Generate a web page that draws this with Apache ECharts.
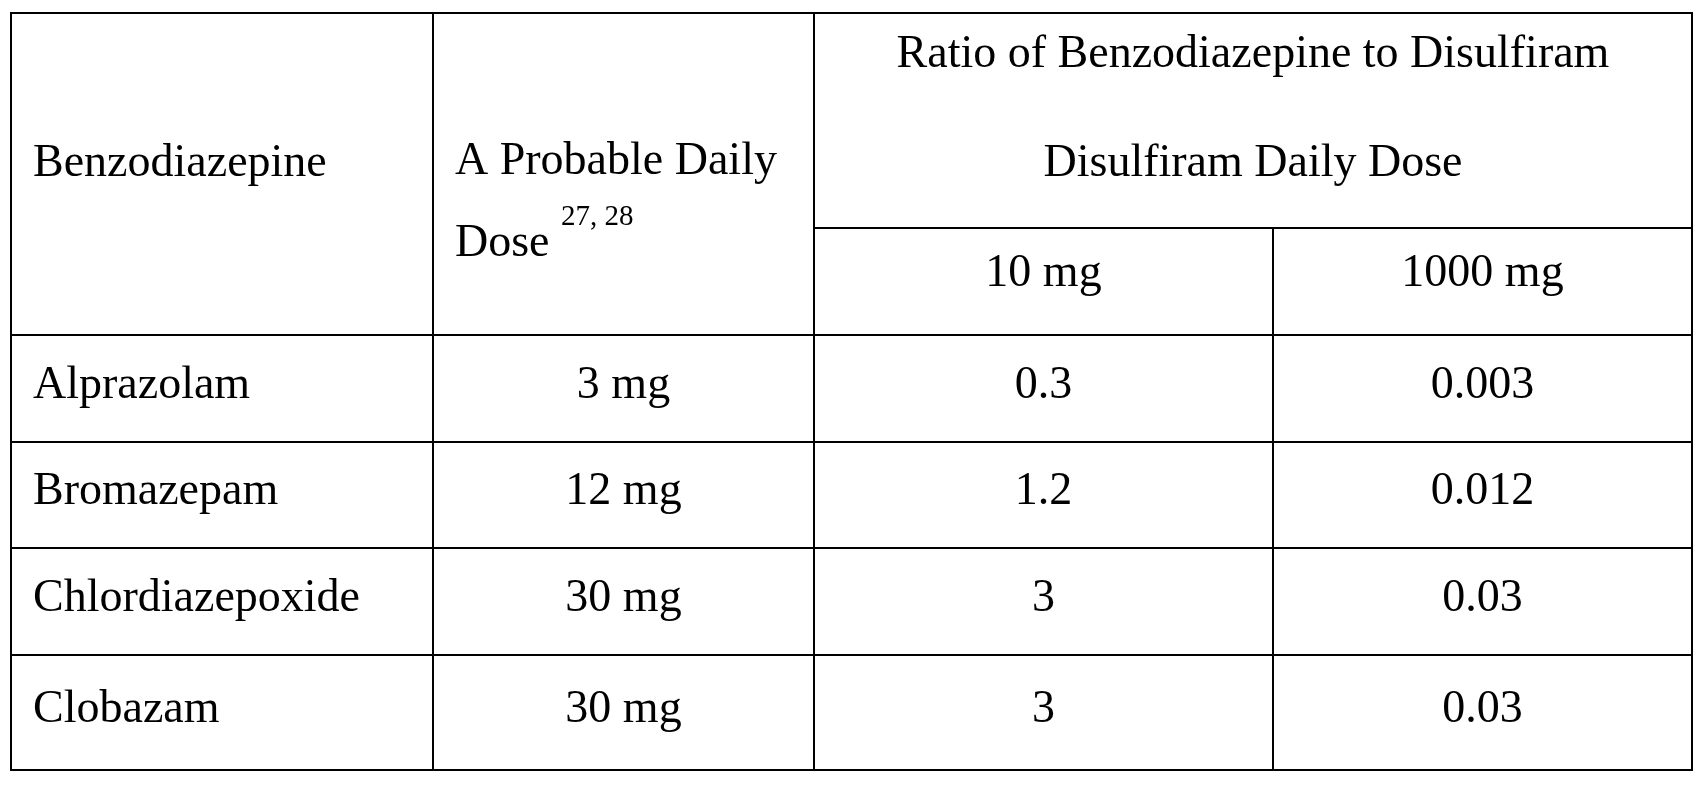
<!DOCTYPE html>
<html><head><meta charset="utf-8">
<script src="https://cdn.jsdelivr.net/npm/echarts@6/dist/echarts.min.js"></script>
<style>html,body{margin:0;padding:0;background:#fff}#c{width:1706px;height:788px}</style>
</head><body><div id="c"></div>
<script>
// data
const headerName = "Benzodiazepine";
const headerDose = ["A Probable Daily", "Dose", "27, 28"];
const headerRatio = ["Ratio of Benzodiazepine to Disulfiram", "Disulfiram Daily Dose"];
const disulfiramDoses = ["10 mg", "1000 mg"];
const drugs = ["Alprazolam", "Bromazepam", "Chlordiazepoxide", "Clobazam"];
const dailyDoses = ["3 mg", "12 mg", "30 mg", "30 mg"];
const ratio10 = ["0.3", "1.2", "3", "3"];
const ratio1000 = ["0.003", "0.012", "0.03", "0.03"];

// layout (table geometry in axis units)
const colEdges = [11, 433, 814, 1273, 1692];
const rowEdges = [13, 228, 335, 442, 548, 655, 770];

const cells = [];
function cell(c0, c1, r0, r1, text, align, extra) {
  cells.push({ value: [c0, c1, r0, r1], text: text, align: align, extra: extra || {} });
}
cell(0, 1, 0, 2, headerName, 'left', { dy: -10 });
cell(1, 2, 0, 2, headerDose[0] + "\n" + headerDose[1] + " {sup|" + headerDose[2] + "}", 'left', { dy: 29, lh: 82 });
cell(2, 4, 0, 1, headerRatio[0] + "\n" + headerRatio[1], 'center', { dy: -11, lh: 109 });
cell(2, 3, 1, 2, disulfiramDoses[0], 'center', { dy: -8 });
cell(3, 4, 1, 2, disulfiramDoses[1], 'center', { dy: -8 });
drugs.forEach((d, i) => {
  const r = i + 2;
  cell(0, 1, r, r + 1, d, 'left', { dy: -3 });
  cell(1, 2, r, r + 1, dailyDoses[i], 'center', { dy: -3 });
  cell(2, 3, r, r + 1, ratio10[i], 'center', { dy: -3 });
  cell(3, 4, r, r + 1, ratio1000[i], 'center', { dy: -3 });
});

const chart = echarts.init(document.getElementById('c'));
chart.setOption({
  animation: false,
  grid: { left: 0, right: 0, top: 0, bottom: 0 },
  xAxis: { type: 'value', min: 0, max: 1706, show: false },
  yAxis: { type: 'value', min: 0, max: 788, inverse: true, show: false },
  series: [{
    type: 'custom',
    coordinateSystem: 'cartesian2d',
    data: cells.map(c => ({ value: c.value })),
    renderItem: function (params, api) {
      const c = cells[params.dataIndex];
      const p0 = api.coord([colEdges[c.value[0]], rowEdges[c.value[2]]]);
      const p1 = api.coord([colEdges[c.value[1]], rowEdges[c.value[3]]]);
      const x = Math.min(p0[0], p1[0]), y = Math.min(p0[1], p1[1]);
      const w = Math.abs(p1[0] - p0[0]), h = Math.abs(p1[1] - p0[1]);
      const tx = c.align === 'left' ? x + 22 : x + w / 2;
      return {
        type: 'group',
        children: [
          { type: 'rect', shape: { x: x, y: y, width: w, height: h },
            style: { fill: 'none', stroke: '#000', lineWidth: 2 } },
          { type: 'text', x: tx, y: y + h / 2 + c.extra.dy,
            style: {
              text: c.text, fill: '#000', align: c.align, verticalAlign: 'middle',
              font: '46px "Liberation Serif", "Times New Roman", serif',
              lineHeight: c.extra.lh || 50,
              rich: { sup: { fontSize: 29, fontFamily: '"Liberation Serif", serif', verticalAlign: 'top', padding: [0, 0, 18, 0], lineHeight: 29 } }
            } }
        ]
      };
    }
  }]
});
</script></body></html>
